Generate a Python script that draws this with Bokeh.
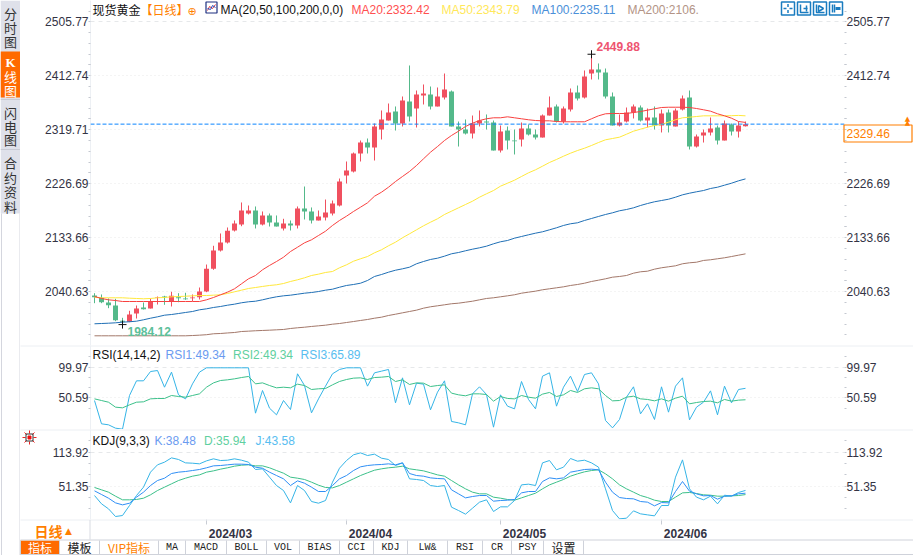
from bokeh.plotting import figure
from bokeh.layouts import row, column
from bokeh.models import (Range1d, FixedTicker, LinearAxis, Grid, Span, Label)
from bokeh.embed import file_html
from bokeh.resources import INLINE

# ------------------------------ data ------------------------------
opens = [2034.2,2030.3,2022.2,2017.0,1990.6,1988.9,2003.2,2013.6,2011.8,2030.3,
2032.5,2023.4,2031.3,2029.1,2029.6,2031.3,2041.1,2080.2,2111.8,2125.6,
2146.2,2156.6,2175.5,2180.7,2156.6,2172.1,2160.0,2149.7,2158.3,2154.9,
2184.1,2179.0,2163.5,2168.6,2175.5,2189.3,2241.0,2247.9,2278.9,2297.8,
2289.2,2320.2,2335.7,2351.2,2330.6,2368.5,2356.4,2378.8,2380.5,2359.9,
2375.4,2385.7,2325.4,2320.2,2313.3,2330.6,2334.0,2332.3,2284.0,2318.5,
2301.3,2303.0,2322.0,2311.6,2306.4,2344.3,2359.9,2334.0,2354.7,2384.0,
2375.4,2416.7,2423.6,2418.4,2377.1,2327.1,2334.0,2349.5,2358.1,2335.7,
2340.9,2327.1,2349.5,2325.4,2354.7,2375.4,2290.9,2309.9,2315.1,2323.7,
2301.3,2328.9,2316.8,2326.0]
highs = [2038.2,2036.0,2029.1,2028.5,1995.8,2007.9,2017.0,2022.2,2029.1,2032.5,
2033.7,2040.6,2038.2,2038.9,2036.0,2048.0,2087.6,2119.9,2141.1,2151.4,
2163.5,2194.5,2189.3,2187.6,2179.0,2175.5,2172.1,2166.4,2163.5,2187.6,
2222.0,2185.9,2180.7,2199.6,2197.9,2235.8,2265.1,2280.6,2301.3,2304.7,
2330.6,2353.0,2365.0,2359.9,2377.1,2430.5,2387.4,2397.8,2394.3,2392.6,
2416.7,2387.4,2334.0,2337.5,2344.3,2353.0,2346.1,2335.7,2327.1,2325.4,
2320.2,2332.3,2328.8,2320.2,2346.1,2377.1,2363.3,2359.9,2390.9,2396.0,
2421.9,2449.88,2434.0,2425.3,2384.0,2346.1,2358.1,2363.3,2361.6,2356.4,
2359.9,2354.7,2354.7,2356.4,2378.8,2387.4,2311.6,2320.2,2340.9,2327.1,
2335.7,2330.6,2334.0,2334.0]
lows = [2021.0,2021.0,2012.4,1990.0,1984.12,1988.3,1994.6,2010.1,2011.8,2018.7,
2018.2,2015.3,2022.7,2026.8,2024.4,2027.4,2040.0,2078.5,2110.0,2123.8,
2144.5,2153.6,2173.8,2149.7,2154.9,2153.1,2153.1,2146.2,2146.2,2149.7,
2165.2,2158.3,2163.5,2163.5,2172.1,2187.6,2227.2,2246.2,2265.1,2278.9,
2266.8,2303.0,2335.7,2318.5,2325.4,2334.0,2323.7,2363.3,2354.7,2359.9,
2371.9,2325.4,2290.9,2311.6,2304.7,2325.4,2320.2,2284.0,2280.6,2285.8,
2277.2,2290.9,2309.9,2303.0,2306.4,2344.3,2332.3,2330.6,2351.2,2370.2,
2373.6,2406.4,2406.4,2373.6,2327.1,2325.4,2332.3,2339.2,2334.0,2323.7,
2320.2,2315.1,2315.1,2325.4,2353.0,2285.8,2289.2,2297.8,2309.9,2294.4,
2301.3,2309.9,2306.4,2325.4]
closes = [2031.3,2022.7,2017.5,1991.7,1988.9,2001.5,2011.8,2010.6,2023.4,2031.3,
2031.3,2033.7,2029.6,2027.9,2030.8,2041.1,2080.2,2111.8,2125.6,2145.7,
2158.3,2180.7,2180.7,2156.6,2172.1,2160.0,2153.1,2158.3,2154.9,2184.1,
2179.0,2163.5,2170.4,2177.2,2192.7,2230.6,2249.6,2278.9,2297.8,2289.2,
2325.4,2337.5,2349.5,2330.6,2370.2,2342.6,2380.5,2382.2,2359.9,2377.1,
2389.1,2325.4,2320.2,2313.3,2330.6,2335.7,2332.3,2284.0,2316.8,2301.3,
2300.1,2322.0,2311.6,2306.4,2344.3,2358.1,2334.0,2356.4,2384.0,2373.6,
2411.5,2423.6,2418.4,2377.1,2327.1,2332.3,2349.5,2359.9,2335.7,2340.9,
2327.1,2347.8,2327.1,2353.0,2373.6,2290.9,2308.2,2315.1,2322.0,2301.3,
2330.6,2316.8,2327.1,2329.46]

ma20 = [2032.5,2029.1,2026.8,2025.6,2023.9,2023.9,2023.9,2023.9,2023.9,2023.9,
2023.9,2023.9,2023.9,2023.9,2023.9,2023.9,2026.8,2030.8,2035.5,2040.0,
2045.8,2054.4,2063.0,2068.7,2078.5,2086.0,2092.8,2100.2,2110.0,2117.4,
2125.0,2130.2,2137.6,2145.0,2154.9,2163.5,2170.9,2179.0,2186.4,2193.9,
2205.3,2212.2,2220.8,2230.6,2239.3,2247.9,2258.2,2269.7,2281.1,2290.9,
2301.3,2309.9,2317.3,2325.4,2331.1,2335.7,2338.7,2340.4,2340.4,2342.1,
2340.4,2338.7,2337.0,2335.7,2335.2,2335.2,2334.0,2333.5,2333.5,2333.5,
2333.5,2338.7,2343.8,2347.3,2347.8,2347.8,2347.8,2349.5,2351.2,2353.5,
2355.9,2358.1,2358.6,2358.6,2358.6,2358.1,2356.4,2354.2,2351.8,2347.3,
2343.8,2339.7,2334.0,2332.42]
ma50 = [2031.3,2030.3,2030.3,2030.3,2030.3,2029.6,2029.1,2028.6,2029.1,2030.3,
2030.8,2032.0,2032.5,2033.0,2033.7,2034.2,2034.2,2034.8,2035.5,2037.7,
2040.6,2043.4,2046.3,2048.0,2049.8,2051.5,2052.7,2054.9,2058.4,2061.3,
2064.7,2068.7,2071.0,2073.9,2075.6,2082.0,2087.1,2093.3,2097.5,2101.4,
2107.8,2113.0,2119.9,2126.1,2133.7,2140.5,2147.4,2154.3,2160.5,2166.4,
2173.8,2179.5,2185.3,2191.0,2196.7,2203.6,2209.5,2215.1,2222.6,2227.7,
2232.9,2239.3,2245.6,2250.8,2257.0,2263.4,2268.6,2274.2,2279.4,2284.0,
2288.0,2292.7,2297.8,2302.5,2304.7,2307.0,2312.1,2317.3,2320.8,2324.2,
2327.1,2328.9,2332.8,2337.0,2340.4,2341.4,2342.6,2343.8,2343.8,2343.8,
2343.8,2344.0,2344.5,2343.79]
ma100 = [1985.5,1986.0,1986.5,1987.2,1988.3,1989.0,1990.0,1992.4,1995.1,1997.5,
2000.3,2001.5,2003.2,2005.0,2006.7,2009.6,2011.3,2013.6,2015.3,2017.5,
2019.3,2021.7,2023.4,2024.4,2026.8,2029.6,2032.0,2033.7,2034.8,2036.5,
2038.2,2039.4,2041.1,2043.4,2045.1,2048.5,2051.5,2053.2,2055.4,2060.1,
2067.0,2070.4,2074.4,2077.8,2080.2,2083.0,2088.9,2092.8,2096.3,2098.5,
2102.0,2106.1,2108.3,2111.3,2114.0,2116.4,2119.2,2123.3,2126.8,2129.0,
2133.0,2135.9,2138.8,2141.6,2144.0,2147.4,2150.9,2154.9,2157.8,2159.5,
2163.5,2166.9,2170.4,2173.8,2176.7,2180.2,2182.4,2185.3,2189.3,2192.7,
2195.7,2197.9,2200.1,2203.6,2207.7,2210.5,2212.9,2215.1,2218.6,2220.8,
2224.3,2227.7,2231.8,2235.11]
ma200 = [1964.8,1964.8,1964.8,1964.8,1964.8,1964.8,1964.8,1964.8,1964.8,1964.8,
1964.8,1964.8,1964.8,1964.8,1965.3,1965.9,1966.7,1968.3,1968.8,1969.7,
1970.5,1972.2,1972.8,1973.5,1974.0,1974.5,1975.1,1975.7,1977.4,1978.6,
1979.6,1980.9,1982.0,1983.1,1984.8,1986.0,1987.7,1989.4,1991.2,1992.9,
1995.1,1996.9,1999.8,2002.0,2004.4,2006.7,2009.0,2012.4,2014.8,2016.5,
2018.2,2020.0,2021.0,2022.7,2024.4,2026.8,2029.1,2030.3,2032.0,2033.7,
2035.5,2038.2,2040.0,2041.7,2044.1,2045.8,2047.5,2049.2,2051.5,2053.2,
2055.4,2058.4,2060.6,2063.0,2065.8,2067.0,2068.7,2072.7,2075.1,2076.1,
2079.6,2082.0,2083.7,2085.4,2088.9,2090.6,2091.6,2094.6,2095.8,2097.5,
2099.2,2101.4,2103.7,2106.0]

rsi3 = [46.2,8.6,7.0,1.6,0.0,54.3,78.0,78.0,93.0,94.6,
67.7,92.0,55.4,48.9,73.1,92.0,99.0,99.0,99.0,99.0,
99.0,99.0,99.0,25.8,62.4,33.9,23.1,46.2,31.7,89.3,
70.4,26.3,48.9,69.4,89.3,96.3,99.0,99.0,99.0,69.4,
90.9,93.6,96.3,42.5,82.8,39.2,74.2,72.6,31.2,59.7,
78.0,12.4,10.2,7.0,57.0,68.3,55.9,3.2,55.4,37.1,
32.8,76.9,47.9,32.8,85.5,90.9,37.1,67.7,85.5,60.8,
88.2,90.9,73.1,14.0,2.1,15.6,51.6,68.3,24.7,40.9,
15.6,68.3,27.4,69.4,82.8,15.0,35.5,43.5,61.8,23.1,
69.4,42.5,64.0,65.89]
rsi2 = [48.9,46.2,43.5,35.5,34.4,39.2,43.5,44.1,48.9,49.5,
49.5,54.3,52.7,51.6,54.3,57.0,67.7,74.7,78.5,79.6,
81.2,83.3,85.0,73.1,74.7,70.4,66.7,67.7,66.7,72.6,
70.4,64.0,65.1,65.6,71.5,76.9,80.1,82.3,82.8,80.1,
83.3,83.9,85.0,76.9,79.6,72.1,74.7,74.2,68.8,70.4,
71.5,58.1,55.4,53.8,57.0,57.0,55.9,45.2,52.7,49.5,
48.9,54.3,51.6,50.0,56.5,59.2,52.7,55.4,62.4,59.2,
65.1,66.7,65.1,54.3,45.7,46.2,51.6,53.2,48.9,47.9,
45.7,48.9,45.2,50.0,53.2,40.9,43.0,44.6,45.2,42.5,
47.9,45.2,46.8,47.4]

kdj_k = [42.8,36.1,29.3,20.7,17.0,20.1,31.2,40.4,52.6,61.8,
66.1,74.7,77.2,78.4,80.2,82.1,85.2,88.8,89.4,90.7,
91.9,91.9,91.3,86.4,84.5,77.2,71.0,64.9,52.6,61.2,
56.9,49.6,41.6,41.6,52.6,64.9,71.0,80.2,87.0,89.4,
90.7,91.3,92.5,90.7,94.3,74.7,71.0,69.8,66.7,65.5,
64.9,44.7,37.3,29.9,32.4,34.2,34.2,23.8,25.0,25.6,
26.9,39.1,41.6,41.6,60.0,66.7,64.9,66.7,77.2,79.6,
82.1,82.7,81.5,58.8,40.4,30.5,28.7,28.1,23.2,22.0,
15.2,21.3,20.7,41.6,60.0,42.2,37.3,33.6,34.2,27.5,
33.0,33.6,37.3,38.48]
kdj_d = [49.0,44.7,40.4,33.0,26.3,26.3,26.9,29.3,35.5,43.4,
49.6,55.7,61.8,66.1,69.8,72.2,77.2,79.6,82.7,85.2,
88.2,90.0,90.7,88.8,88.8,85.2,80.2,75.3,68.0,66.1,
63.7,58.8,53.2,49.0,48.3,52.6,58.8,64.9,71.0,76.0,
80.8,83.3,85.2,86.4,88.2,83.3,81.5,79.6,76.0,72.2,
69.8,61.8,53.8,46.5,40.4,37.3,37.3,31.2,29.3,26.9,
25.6,29.9,34.2,38.5,46.5,53.8,58.8,63.7,69.8,74.1,
77.8,80.2,81.5,74.1,64.9,53.8,46.5,40.4,34.2,30.5,
25.6,23.2,23.2,31.2,39.1,39.8,37.9,35.5,34.8,33.0,
33.0,33.6,34.2,35.94]
kdj_j = [34.2,18.9,9.7,-4.4,-2.6,15.8,34.2,49.6,77.2,90.7,
95.6,103.5,100.5,94.3,93.7,92.5,98.0,101.7,98.6,99.2,
101.7,99.2,95.6,82.1,83.3,68.0,52.6,43.4,20.7,52.6,
43.4,23.2,20.1,25.0,58.8,84.5,98.6,109.1,112.7,107.8,
110.3,102.9,100.5,89.4,94.3,64.9,63.7,61.8,52.6,50.8,
52.6,12.8,6.6,-0.1,10.9,22.0,26.3,4.8,13.4,13.4,
25.0,53.8,55.1,52.6,94.3,98.6,81.5,86.4,102.3,97.4,
99.2,94.3,86.4,46.5,6.6,-8.7,-7.5,6.0,0.5,-1.4,
-3.2,15.8,15.8,68.0,99.8,46.5,31.2,26.3,33.0,18.9,
34.8,33.0,39.8,43.58]

price_ticks = [2505.77, 2412.74, 2319.71, 2226.69, 2133.66, 2040.63]
rsi_ticks = [99.97, 50.59]
kdj_ticks = [113.92, 51.35]
date_ticks = {16: "2024/03", 36: "2024/04", 58: "2024/05", 81: "2024/06"}
last_price = 2329.46
tab_labels = ["指标", "模板", "VIP指标", "MA", "MACD", "BOLL", "VOL", "BIAS", "CCI", "KDJ", "LW&", "RSI", "CR", "PSY", "设置"]
tab_edges = [20, 59, 99, 158, 185, 226, 266, 299, 339, 373, 407, 447, 482, 511, 543, 583]
side_labels = [("分", 13), ("时", 27), ("图", 41), ("K", 62), ("线", 76), ("图", 90),
               ("闪", 112), ("电", 126), ("图", 139), ("合", 162), ("约", 177), ("资", 191), ("料", 206)]

# ------------------------------ scales ------------------------------
LEFT, RIGHT = 90, 844
XL = lambda px: (px - 94) / 7
XR = (XL(LEFT), XL(RIGHT))
xs = list(range(len(closes)))
SANS = "Liberation Sans"
CJK = "Noto Sans CJK SC"
RED, GREEN = "#f0505f", "#54b98a"
ORANGE = "#ff7f00"
RULE = "#eceff3"


def panel(top, bottom, vtop, vref, per_px, ticks, minor, height_extra=0, right_hide=()):
    f = lambda py: vtop - (py - vref) * per_px
    p = figure(width=893, height=bottom - top + height_extra, output_backend="svg", toolbar_location=None,
               x_range=Range1d(*XR), y_range=Range1d(f(bottom), f(top)),
               x_axis_location=None, min_border_left=LEFT - 20, min_border_right=913 - RIGHT,
               min_border_top=0, min_border_bottom=height_extra, outline_line_color=None,
               background_fill_color="white", border_fill_color="white")
    p.grid.visible = False
    for axis_side in ("left", "right"):
        if axis_side == "left":
            ax = p.yaxis[0]
        else:
            ax = LinearAxis()
            p.add_layout(ax, "right")
        ax.ticker = FixedTicker(ticks=ticks, minor_ticks=minor)
        ax.major_label_overrides = {t: ("" if axis_side == "right" and t in right_hide else f"{t:.2f}") for t in ticks}
        ax.major_label_text_font = SANS
        ax.major_label_text_font_size = "12px"
        ax.major_label_text_color = "#333344"
        ax.major_label_standoff = 0
        ax.major_tick_in = 0
        ax.major_tick_out = 2
        ax.minor_tick_in = 0
        ax.minor_tick_out = 2
        ax.major_tick_line_color = "#c4c8d0"
        ax.minor_tick_line_color = "#c4c8d0"
        ax.axis_line_color = "#edf0f4" if axis_side == "left" else None
    p.add_layout(Grid(dimension=1, ticker=FixedTicker(ticks=ticks[:1]), grid_line_color="#e6e8ea", grid_line_dash="4 4"))
    p.add_layout(Grid(dimension=1, ticker=FixedTicker(ticks=ticks[1:]), grid_line_color="#e8e8e8", grid_line_dash="1 3"))
    return p, f


# transparent sheet over the whole page, measured in page pixels, for the page furniture
ov = figure(width=913, height=555, output_backend="svg", toolbar_location=None, x_range=Range1d(0, 913), y_range=Range1d(555, 0),
            x_axis_location=None, y_axis_location=None, min_border=0, outline_line_color=None,
            background_fill_alpha=0, border_fill_alpha=0, margin=(-555, 0, 0, 0))
ov.grid.visible = False


def tx(px, py, s, color="#222222", size=12, font=SANS, style="normal", align="left"):
    ov.add_layout(Label(x=px, y=py, text=s, text_color=color, text_font=font, text_font_size=f"{size}px",
                        text_font_style=style, text_align=align, text_baseline="middle"))


def rule(py, x0=20, x1=913, color=RULE):
    ov.segment([x0], [py], [x1], [py], color=color, line_width=1)


def box(x0, y0, x1, y1, line="#1a7cc0", fill=None, width=1.5):
    ov.quad(left=[x0], right=[x1], top=[y0], bottom=[y1], fill_color=fill, line_color=line, line_width=width)


def seg(pts, color="#1a7cc0", width=1.5):
    ov.line([a for a, _ in pts], [b for _, b in pts], color=color, line_width=width)


# ------------------------------ K-line panel ------------------------------
kl, fk = panel(0, 345, 2505.77, 21.3, 1.7228,
               price_ticks, [t - k * 18.606 for t in price_ticks for k in range(-1, 5) if k != 0],
               right_hide=(2319.71,))

kl.segment(xs, highs, xs, lows, color=[RED if c >= o else GREEN for o, c in zip(opens, closes)], line_width=1)
kl.vbar(xs, width=5 / 7, top=[max(o, c) for o, c in zip(opens, closes)], bottom=[min(o, c) for o, c in zip(opens, closes)],
        fill_color=[RED if c >= o else GREEN for o, c in zip(opens, closes)], line_color=None)
kl.line(xs, ma200, color="#a3786a", line_width=1)
kl.line(xs, ma100, color="#1f6fb5", line_width=1)
kl.line(xs, ma50, color="#ffe83c", line_width=1)
kl.line(xs, ma20, color="#f8413f", line_width=1)
kl.add_layout(Span(location=last_price, dimension="width", line_color="#0a84ff", line_dash="4 2", line_width=1))
kl.scatter([71, 4], [highs[71], lows[4]], marker="cross", size=8, line_color="#111111", line_width=1)
kl.add_layout(Label(x=XL(596), y=highs[71] + 14, text="2449.88", text_color="#ee5470", text_font=SANS, text_font_size="12px",
                    text_font_style="bold", text_baseline="middle"))
kl.add_layout(Label(x=XL(127), y=lows[4] - 12, text="1984.12", text_color="#5cc09a", text_font=SANS, text_font_size="12px",
                    text_font_style="bold", text_baseline="middle"))

tx(92, 9, "现货黄金", "#111111", 12, CJK)
tx(140, 9, "【日线】", ORANGE, 12, CJK)
tx(187, 11, "⊕", ORANGE, 11, "DejaVu Sans")
tx(220, 9, "MA(20,50,100,200,0,0)", "#111111")
tx(351, 9, "MA20:2332.42", "#ff5050")
tx(441, 9, "MA50:2343.79", "#ffe85a")
tx(531, 9, "MA100:2235.11", "#4a90d9")
tx(627, 9, "MA200:2106.", "#b39486")

box(205.5, 1.5, 216.5, 12.5, line="#1d2f80", width=1.2)
seg([(207, 10), (209, 6), (212, 8), (215, 4)], "#e0303a", 1)
seg([(207, 8), (210, 9), (212, 5), (215, 7)], "#2050c0", 1)

for a in (781, 797, 813, 829):
    box(a, 1.5, a + 13, 14.5)
seg([(787.5, 3.5), (787.5, 6.5)]); seg([(787.5, 9.5), (787.5, 12.5)])
seg([(783, 8), (786, 8)]); seg([(789, 8), (792, 8)])
seg([(800, 4), (800, 12), (808, 12)]); seg([(803, 8), (807, 8)]); seg([(806, 5), (806, 11)])
seg([(816, 4), (816, 12), (824, 12)]); seg([(818, 5), (818, 11), (823, 8), (818, 5)])
seg([(832, 4), (832, 12)]); seg([(834, 4), (834, 12)]); seg([(835, 8), (840, 8)], width=3)

box(843.5, 124.5, 911.5, 141.5, line=ORANGE, width=1.2)
tx(846, 133, "2329.46", ORANGE)
tx(907, 118.5, "▲", ORANGE, 7, "DejaVu Sans", align="center")
tx(907, 122, "▲", ORANGE, 7, "DejaVu Sans", align="center")

# ------------------------------ RSI panel ------------------------------
rs, fr = panel(345, 429, 99.97, 366.7, 1.6137, rsi_ticks,
               [99.97 - k * 16.46 for k in range(-1, 5) if k not in (0, 3)])
rs.line(xs, rsi3, color="#35b4e6", line_width=1)
rs.line(xs, rsi2, color="#3cc08a", line_width=1)
tx(92, 354, "RSI(14,14,2)", "#111111")
tx(165, 354, "RSI1:49.34", "#6b9bf0")
tx(232.5, 354, "RSI2:49.34", "#5fd0a0")
tx(300, 354, "RSI3:65.89", "#58bdf0")
rule(345.5)

# ------------------------------ KDJ panel ------------------------------
kd, fd = panel(429, 519, 113.92, 451.7, 1.84, kdj_ticks,
               [113.92 - k * 20.857 for k in range(-1, 6) if k != 0 and k != 3], height_extra=36)
kd.line(xs, kdj_d, color="#3cc08a", line_width=1)
kd.line(xs, kdj_j, color="#35b4e6", line_width=1)
kd.line(xs, kdj_k, color="#2f8ff5", line_width=1)
tx(92, 440, "KDJ(9,3,3)", "#111111")
tx(154, 440, "K:38.48", "#6b9bf0")
tx(203.5, 440, "D:35.94", "#5fd0a0")
tx(255, 440, "J:43.58", "#58bdf0")
rule(429.5)
rule(519.5)

# date labels start just after their month tick: labelled ticks sit a little to the right of the small month marks
label_shift = 24 / 7
label_pos = {k + label_shift: v for k, v in date_ticks.items()}
xax = LinearAxis(ticker=FixedTicker(ticks=list(label_pos), minor_ticks=list(date_ticks)), major_label_overrides=label_pos)
xax.major_label_text_font = SANS
xax.major_label_text_font_size = "12px"
xax.major_label_text_font_style = "bold"
xax.major_label_text_color = "#333344"
xax.major_label_standoff = 2
xax.major_tick_in = 0
xax.major_tick_out = 0
xax.minor_tick_in = 0
xax.minor_tick_out = 5
xax.minor_tick_line_color = "#c8ccd4"
xax.major_tick_line_color = None
xax.axis_line_color = None
kd.add_layout(xax, "below")

# "日线" selector and the little marker
ov.segment([89.5], [519.5], [89.5], [539], color="#d8dbe2", line_width=1)
tx(34, 530, "日线", ORANGE, 14, CJK, "bold")
tx(68, 530, "▲", ORANGE, 9, "DejaVu Sans", align="center")
ov.segment([22, 33, 29, 29, 24, 32, 24, 32], [437, 437, 430, 441, 432, 440, 442, 434],
           [25, 36, 29, 29, 26, 34, 26, 34], [437, 437, 433, 444, 434, 442, 440, 432], color="#f02020", line_width=1)
box(25.5, 433.5, 32.5, 440.5, line="#333333", width=1)
box(27.5, 435.5, 30.5, 438.5, line="#f01010", fill="#f01010", width=1)

# ------------------------------ bottom tab strip ------------------------------
ov.quad(left=[tab_edges[0]], right=[tab_edges[1]], top=[540], bottom=[554], fill_color="#ff6a00", line_color=None)
ov.segment(tab_edges, [540] * len(tab_edges), tab_edges, [554] * len(tab_edges), color="#cfd2da", line_width=1)
ov.segment([20, 20], [539.5, 554], [913, 913], [539.5, 554], color="#cfd2da", line_width=1)
for k, s in enumerate(tab_labels):
    ascii_only = s.isascii()
    color = "white" if k == 0 else (ORANGE if k == 2 else "#222222")
    ov.add_layout(Label(x=(tab_edges[k] + tab_edges[k + 1]) / 2, y=547, text=s, text_color=color, text_align="center", text_baseline="middle",
                        text_font="Liberation Mono" if ascii_only else CJK, text_font_size="10px" if ascii_only else "12px"))

# ------------------------------ left sidebar ------------------------------
sd = figure(width=20, height=555, output_backend="svg", toolbar_location=None, x_range=Range1d(0, 20), y_range=Range1d(555, 0),
            x_axis_location=None, y_axis_location=None, min_border=0, outline_line_color=None, border_fill_color="white")
sd.grid.visible = False
sd.quad(left=[0], right=[20], top=[0], bottom=[213], fill_color="#dfe1ea", line_color=None)
sd.quad(left=[0], right=[19.5], top=[51], bottom=[97], fill_color="#ff6a00", line_color=None)
sd.segment([0, 0], [99, 149], [20, 20], [99, 149], color="#c8cad4", line_width=1)
sd.segment([1, 19.5], [213, 213], [1, 19.5], [555, 555], color="#d4d6de", line_width=1)
for s, y in side_labels:
    c = "white" if 51 < y < 97 else "#333333"
    sd.add_layout(Label(x=10, y=y, text=s, text_color=c, text_align="center", text_baseline="middle",
                        text_font="Liberation Serif" if s == "K" else CJK, text_font_size="13px", text_font_style="bold" if s == "K" else "normal"))

main = row(sd, column(kl, rs, kd, spacing=0), spacing=0)
root = column(main, ov, spacing=0, margin=(0, 0, 0, 0))
open("out.html", "w").write(file_html(root, INLINE))
